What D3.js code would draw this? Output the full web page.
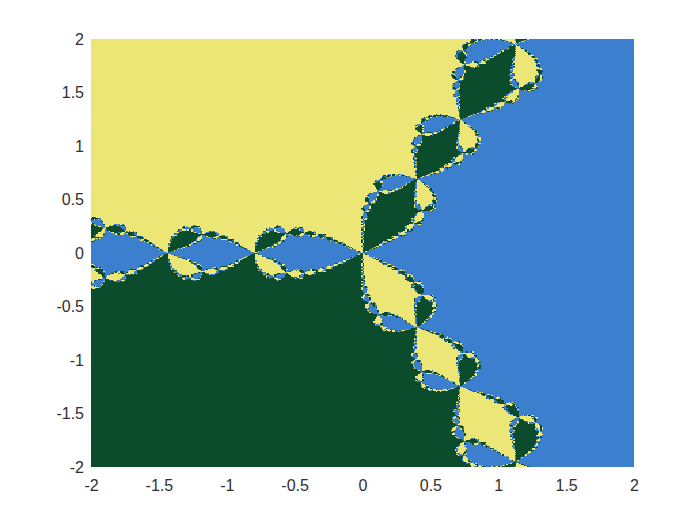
<!DOCTYPE html>
<html>
<head>
<meta charset="utf-8">
<script src="https://cdnjs.cloudflare.com/ajax/libs/d3/7.8.5/d3.min.js"></script>
<style>
html,body{margin:0;padding:0;background:#fff;}
svg{display:block;}
</style>
</head>
<body>
<svg id="chart" width="700" height="525"></svg>
<script>
// Roots of z^3 - 1 and the colour of each root's basin
const rootsRe = [1, -0.5, -0.5];
const rootsIm = [0, Math.sqrt(3) / 2, -Math.sqrt(3) / 2];
const basinColors = ["#3c7fce", "#ece676", "#0b4c2c"];
const xTicks = [-2, -1.5, -1, -0.5, 0, 0.5, 1, 1.5, 2];
const yTicks = [-2, -1.5, -1, -0.5, 0, 0.5, 1, 1.5, 2];
const domainRange = [-2, 2];
const gridSize = 400;
const maxIterations = 60;

const margin = {left: 91, right: 66, top: 39, bottom: 58};
const svg = d3.select("#chart");
const x = d3.scaleLinear().domain(domainRange).range([margin.left, 700 - margin.right]);
const y = d3.scaleLinear().domain(domainRange).range([525 - margin.bottom, margin.top]);

// Newton iteration z -> (2z^3 + 1) / (3z^2); returns the index of the root reached
function basin(re, im) {
  for (let k = 0; k < maxIterations; k++) {
    const r2 = re * re - im * im, i2 = 2 * re * im;
    const d = 3 * (r2 * r2 + i2 * i2);
    if (d === 0) break;
    const r3 = r2 * re - i2 * im, i3 = r2 * im + i2 * re;
    const nr = 2 * r3 + 1, ni = 2 * i3;
    const newRe = (nr * r2 + ni * i2) / d;
    const newIm = (ni * r2 - nr * i2) / d;
    re = newRe; im = newIm;
    for (let j = 0; j < 3; j++) {
      const a = re - rootsRe[j], b = im - rootsIm[j];
      if (a * a + b * b < 1e-8) return j;
    }
  }
  return 0;
}

// Merge equal neighbours of each grid row into runs
const step = (domainRange[1] - domainRange[0]) / gridSize;
const runs = [];
for (let row = 0; row < gridSize; row++) {
  const im = domainRange[0] + (row + 0.5) * step;
  let start = 0;
  let current = basin(domainRange[0] + 0.5 * step, im);
  for (let col = 1; col <= gridSize; col++) {
    const b = col < gridSize ? basin(domainRange[0] + (col + 0.5) * step, im) : -1;
    if (b !== current) {
      runs.push({row, start, end: col, root: current});
      start = col;
      current = b;
    }
  }
}

const defs = svg.append("defs");
defs.append("filter").attr("id", "soften")
  .attr("filterUnits", "userSpaceOnUse")
  .attr("x", 0).attr("y", 0).attr("width", 700).attr("height", 525)
  .attr("color-interpolation-filters", "sRGB")
  .append("feGaussianBlur").attr("stdDeviation", 0.4);

svg.append("g").attr("filter", "url(#soften)")
  .selectAll("rect").data(runs).join("rect")
  .attr("x", d => x(domainRange[0] + d.start * step))
  .attr("width", d => x(domainRange[0] + d.end * step) - x(domainRange[0] + d.start * step))
  .attr("y", d => y(domainRange[0] + (d.row + 1) * step))
  .attr("height", d => y(domainRange[0] + d.row * step) - y(domainRange[0] + (d.row + 1) * step))
  .attr("fill", d => basinColors[d.root])
  .attr("shape-rendering", "crispEdges");

const fmt = d => String(d);
const xAxis = svg.append("g").attr("transform", `translate(0,${525 - margin.bottom})`)
  .call(d3.axisBottom(x).tickValues(xTicks).tickFormat(fmt).tickSize(0).tickPadding(13));
const yAxis = svg.append("g").attr("transform", `translate(${margin.left},0)`)
  .call(d3.axisLeft(y).tickValues(yTicks).tickFormat(fmt).tickSize(0).tickPadding(7));
xAxis.select(".domain").remove();
yAxis.select(".domain").remove();
svg.selectAll(".tick text")
  .style("font-family", '"Liberation Sans",Arial,sans-serif')
  .style("font-size", "16px")
  .style("fill", "#303030");
</script>
</body>
</html>
